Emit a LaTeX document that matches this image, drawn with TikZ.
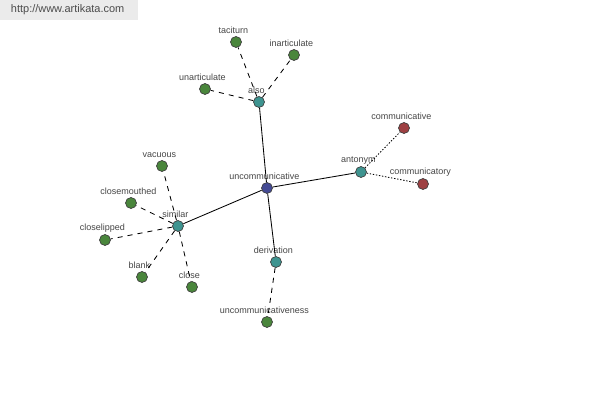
\documentclass[tikz,border=0pt]{standalone}
\usepackage{fontspec}
\setmainfont{Liberation Sans}
\definecolor{leafgreen}{RGB}{74,134,60}
\definecolor{relteal}{RGB}{62,148,144}
\definecolor{rootblue}{RGB}{68,74,148}
\definecolor{antred}{RGB}{158,64,66}
\definecolor{labelgray}{RGB}{70,70,70}
\tikzset{
  word/.style={circle, draw=black!75, line width=0.5pt, minimum size=7.8pt, inner sep=0pt,
    label={[text=labelgray, font=\fontsize{6.4}{7}\selectfont, inner sep=0.5pt, label distance=0.8pt, xshift=-1.8pt]above:#1}},
  leaf/.style={word=#1, fill=leafgreen},
  rel/.style={word=#1, fill=relteal},
  opp/.style={word=#1, fill=antred},
  mainlink/.style={line width=0.6pt},
  dashlink/.style={line width=0.6pt, dash pattern=on 3.6pt off 3.6pt},
  dotlink/.style={line width=0.6pt, dash pattern=on 1pt off 1.2pt}
}
\begin{document}
\begin{tikzpicture}[x=0.025cm, y=-0.025cm]
        \useasboundingbox[fill=white] (0,0) rectangle (600,400);
        \fill[black!8] (0,0) rectangle (138,20);
        \node[text=black!70, font=\fontsize{7.8}{9}\selectfont, anchor=west] (site) at (6,10) {http://www.artikata.com};

        % hub and relations
        \node[word=uncommunicative, fill=rootblue] (root) at (267,188) {};
        \node[rel=also] (also) at (259,102) {};
        \node[rel=antonym] (anto) at (361,172) {};
        \node[rel=similar] (simi) at (178,226) {};
        \node[rel=derivation] (deri) at (276,262) {};

        % words
        \node[leaf=taciturn] (taci) at (236,42) {};
        \node[leaf=inarticulate] (inar) at (294,55) {};
        \node[leaf=unarticulate] (unar) at (205,89) {};
        \node[opp=communicative] (comm) at (404,128) {};
        \node[opp=communicatory] (cory) at (423,184) {};
        \node[leaf=vacuous] (vacu) at (162,166) {};
        \node[leaf=closemouthed] (mout) at (131,203) {};
        \node[leaf=closelipped] (lipp) at (105,240) {};
        \node[leaf=blank] (blan) at (142,277) {};
        \node[leaf=close] (clos) at (192,287) {};
        \node[leaf=uncommunicativeness] (ness) at (267,322) {};

        \draw[mainlink] (root) -- (also);
        \draw[mainlink] (root) -- (anto);
        \draw[mainlink] (root) -- (simi);
        \draw[mainlink] (root) -- (deri);

        \draw[dashlink] (also) -- (taci);
        \draw[dashlink] (also) -- (inar);
        \draw[dashlink] (also) -- (unar);
        \draw[dotlink] (anto) -- (comm);
        \draw[dotlink] (anto) -- (cory);
        \draw[dashlink] (simi) -- (vacu);
        \draw[dashlink] (simi) -- (mout);
        \draw[dashlink] (simi) -- (lipp);
        \draw[dashlink] (simi) -- (blan);
        \draw[dashlink] (simi) -- (clos);
        \draw[dashlink] (deri) -- (ness);
    \end{tikzpicture}
\end{document}
